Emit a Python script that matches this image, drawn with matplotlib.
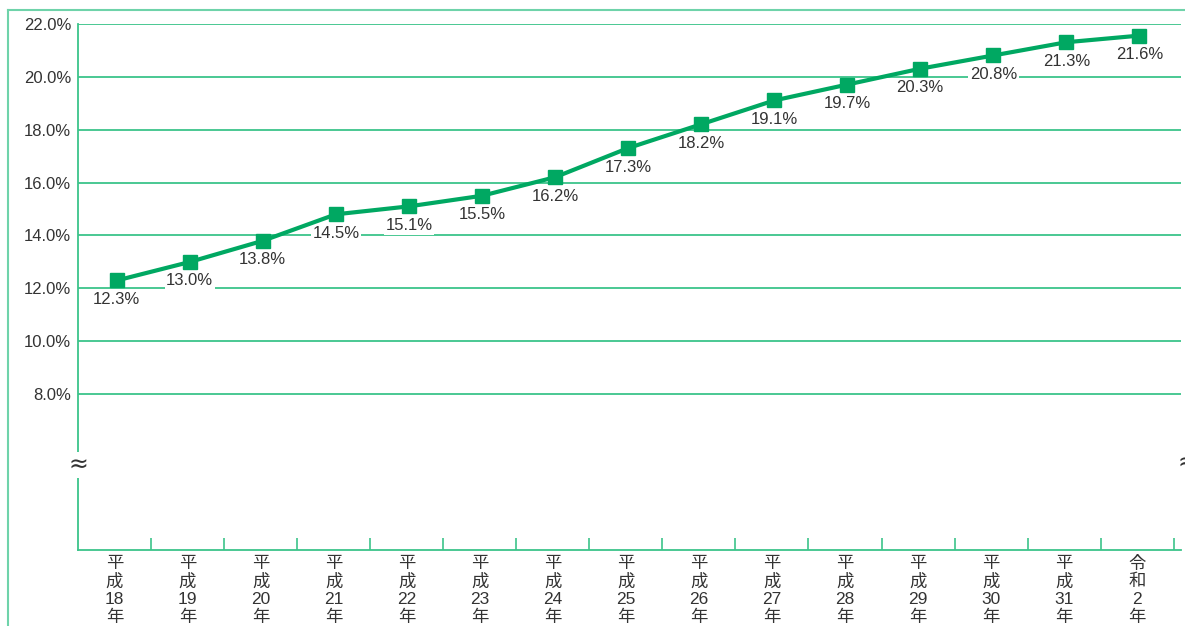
import matplotlib.pyplot as plt
import numpy as np

plt.rcParams['font.family'] = ['Noto Sans CJK JP', 'DejaVu Sans']

# 年度と割合
years = ["平\n成\n18\n年", "平\n成\n19\n年", "平\n成\n20\n年", "平\n成\n21\n年",
         "平\n成\n22\n年", "平\n成\n23\n年", "平\n成\n24\n年", "平\n成\n25\n年",
         "平\n成\n26\n年", "平\n成\n27\n年", "平\n成\n28\n年", "平\n成\n29\n年",
         "平\n成\n30\n年", "平\n成\n31\n年", "令\n和\n2\n年"]
pct = [12.3, 13.0, 13.8, 14.8, 15.1, 15.5, 16.2, 17.3, 18.2, 19.1, 19.7, 20.3, 20.8, 21.3, 21.55]
pct_labels = ["12.3%", "13.0%", "13.8%", "14.5%", "15.1%", "15.5%", "16.2%", "17.3%",
              "18.2%", "19.1%", "19.7%", "20.3%", "20.8%", "21.3%", "21.6%"]
yticks = [8, 10, 12, 14, 16, 18, 20, 22]

line_green = '#00a862'
grid_green = '#3cc48a'
frame_green = '#6fd3aa'
text_col = '#333333'
num_font = 'Liberation Sans'

W, H = 1185, 626
fig = plt.figure(figsize=(W / 100, H / 100), dpi=100)
ax = fig.add_axes([78 / W, (H - 550) / H, (1181 - 78) / W, (550 - 23.7) / H])

x = np.arange(len(years))
xs = x + 0.03
ax.plot(xs, pct, color=line_green, lw=3.0, marker='s', ms=10.5, mec=line_green,
        mfc=line_green, zorder=5)

for xi, yi, lab in zip(xs, pct, pct_labels):
    ax.annotate(lab, (xi, yi), xytext=(0, -19), textcoords='offset pixels',
                ha='center', va='center', fontsize=12, color=text_col,
                family=num_font,
                bbox=dict(boxstyle='square,pad=0.1', fc='white', ec='none'), zorder=4)

ax.set_xlim(-0.5, 14.6)
ax.set_ylim(2.12, 22)

for yv in yticks:
    ax.axhline(yv, color=grid_green, lw=1.3, zorder=1)

ax.set_yticks(yticks)
ax.set_yticklabels([f"{v:.1f}%" for v in yticks], family=num_font, fontsize=12,
                   color=text_col)
ax.tick_params(axis='y', length=0, pad=5)

ax.set_xticks(x)
ax.set_xticklabels(years, fontsize=12.5, color=text_col, linespacing=1.2, va='top',
                   family=['Liberation Sans', 'Noto Sans CJK JP'])
ax.tick_params(axis='x', which='major', length=0, pad=4)
ax.set_xticks(np.arange(0.5, 15, 1), minor=True)
ax.tick_params(axis='x', which='minor', direction='in', length=9, width=1.2, color=grid_green)

for s in ['top', 'right']:
    ax.spines[s].set_visible(False)
for s in ['left', 'bottom']:
    ax.spines[s].set_color(grid_green)
    ax.spines[s].set_linewidth(1.3)

# 省略記号
ax.annotate("≈", xy=(78 / W, (H - 465) / H), xycoords='figure fraction', ha='center',
            va='center', fontsize=17, color=text_col, family='DejaVu Sans',
            bbox=dict(boxstyle='square,pad=0.05', fc='white', ec='none'))
ax.annotate("≈", xy=(1187 / W, (H - 463) / H), xycoords='figure fraction', ha='center',
            va='center', fontsize=17, color=text_col, family='DejaVu Sans')

# 外枠
fig.add_artist(plt.Line2D([8 / W, 8 / W], [0, (H - 9.5) / H], color=frame_green, lw=1.5))
fig.add_artist(plt.Line2D([8 / W, 1], [(H - 9.5) / H, (H - 9.5) / H], color=frame_green, lw=1.5))

fig.savefig('out.png', dpi=100)
